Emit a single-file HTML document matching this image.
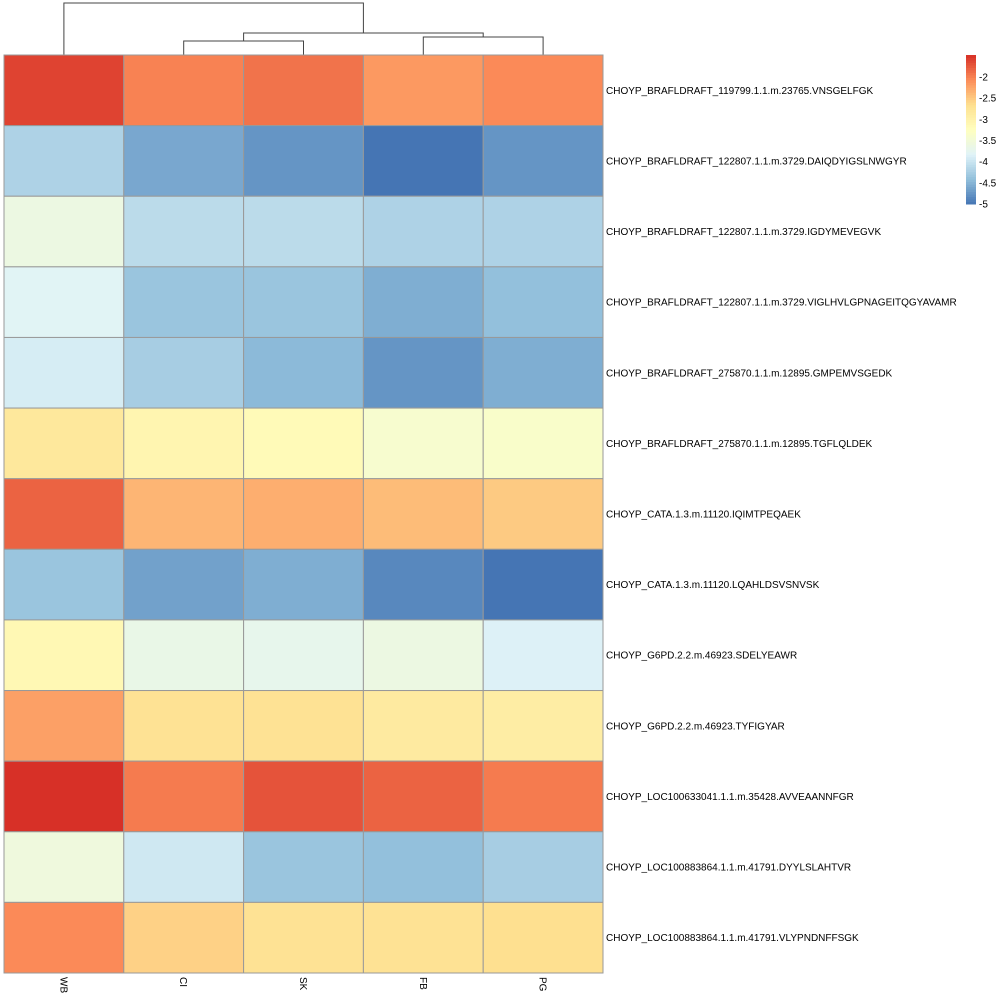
<!DOCTYPE html>
<html><head><meta charset="utf-8"><style>
body{margin:0;background:#fff}
svg{display:block;font-family:"Liberation Sans",sans-serif}
</style></head><body>
<svg id="chart" width="1000" height="1000">
<g id="dendro" stroke="#444" fill="none" stroke-width="1"></g>
<g id="cells"></g>
<g id="rowlabels" font-size="10" fill="#000"></g>
<g id="collabels" font-size="10" fill="#000"></g>
<g id="legend" font-size="10"></g>
</svg>
<script>
const columns = ["WB","CI","SK","FB","PG"];
const rows = ["CHOYP_BRAFLDRAFT_119799.1.1.m.23765.VNSGELFGK","CHOYP_BRAFLDRAFT_122807.1.1.m.3729.DAIQDYIGSLNWGYR","CHOYP_BRAFLDRAFT_122807.1.1.m.3729.IGDYMEVEGVK","CHOYP_BRAFLDRAFT_122807.1.1.m.3729.VIGLHVLGPNAGEITQGYAVAMR","CHOYP_BRAFLDRAFT_275870.1.1.m.12895.GMPEMVSGEDK","CHOYP_BRAFLDRAFT_275870.1.1.m.12895.TGFLQLDEK","CHOYP_CATA.1.3.m.11120.IQIMTPEQAEK","CHOYP_CATA.1.3.m.11120.LQAHLDSVSNVSK","CHOYP_G6PD.2.2.m.46923.SDELYEAWR","CHOYP_G6PD.2.2.m.46923.TYFIGYAR","CHOYP_LOC100633041.1.1.m.35428.AVVEAANNFGR","CHOYP_LOC100883864.1.1.m.41791.DYYLSLAHTVR","CHOYP_LOC100883864.1.1.m.41791.VLYPNDNFFSGK"];
const values = [
[-1.6,-2.0,-1.9,-2.15,-2.05],
[-4.2,-4.6,-4.75,-5.0,-4.75],
[-3.6,-4.1,-4.1,-4.2,-4.2],
[-3.8,-4.35,-4.35,-4.55,-4.4],
[-3.9,-4.25,-4.45,-4.75,-4.55],
[-2.8,-3.05,-3.15,-3.4,-3.35],
[-1.8,-2.35,-2.3,-2.4,-2.5],
[-4.35,-4.65,-4.55,-4.85,-5.0],
[-3.1,-3.65,-3.7,-3.6,-3.85],
[-2.2,-2.7,-2.7,-2.85,-2.9],
[-1.45,-1.95,-1.7,-1.8,-1.95],
[-3.55,-3.95,-4.35,-4.4,-4.25],
[-2.05,-2.55,-2.7,-2.7,-2.65]];
const legendTicks = [-2,-2.5,-3,-3.5,-4,-4.5,-5];
const legendTickLabels = ["-2","-2.5","-3","-3.5","-4","-4.5","-5"];
const vmin=-5, vmax=-1.48;
const pal=["#4575B4","#91BFDB","#E0F3F8","#FFFFBF","#FEE090","#FC8D59","#D73027"];
function hex(h){return [1,3,5].map(i=>parseInt(h.substr(i,2),16));}
function color(v){let t=Math.max(0,Math.min(1,(v-vmin)/(vmax-vmin)))*(pal.length-1);let i=Math.min(pal.length-2,Math.floor(t));let f=t-i;let a=hex(pal[i]),b=hex(pal[i+1]);return "rgb("+a.map((x,k)=>Math.round(x+(b[k]-x)*f)).join(",")+")";}
const X0=4,X1=603,Y0=55,Y1=973;
const cw=(X1-X0)/columns.length, rh=(Y1-Y0)/rows.length;
const xs=j=>X0+j*cw, ys=i=>Y0+i*rh;
const NS="http://www.w3.org/2000/svg";
function mk(tag,attrs,parent){const e=document.createElementNS(NS,tag);for(const k in attrs)e.setAttribute(k,attrs[k]);parent.appendChild(e);return e;}
const cells=document.getElementById('cells');
values.forEach((r,i)=>r.forEach((v,j)=>{
 const e=mk('rect',{x:xs(j),y:ys(i),width:cw,height:rh,fill:color(v),stroke:'#999','stroke-width':1},cells);
 
 
}));
const rl=document.getElementById('rowlabels');
rows.forEach((n,i)=>{const t=mk('text',{x:X1+3,y:ys(i)+rh/2+3.5},rl);t.textContent=n;
 
 });
const cl=document.getElementById('collabels');
columns.forEach((n,j)=>{const cx=xs(j)+cw/2;const t=mk('text',{x:0,y:0,transform:`translate(${cx-3.5},${Y1+4}) rotate(90)`},cl);t.textContent=n;
 
 });
// dendrogram
const d=document.getElementById('dendro');
const cx=j=>xs(j)+cw/2;
function link(x1,y1,x2,y2,top){mk('path',{d:`M${x1},${y1}V${top}H${x2}V${y2}`},d);}
const m1=(cx(1)+cx(2))/2, m2=(cx(3)+cx(4))/2, m3=(m1+m2)/2;
link(cx(1),Y0,cx(2),Y0,41);
link(cx(3),Y0,cx(4),Y0,37);
link(m1,41,m2,37,33);
link(cx(0),Y0,m3,33,3);
// legend
const lg=document.getElementById('legend');
const LX=966,LW=10,LT=55,LB=204;
const ly=v=>LB-(v-vmin)/(vmax-vmin)*(LB-LT);
for(let k=0;k<60;k++){const v0=vmin+(vmax-vmin)*k/60,v1=vmin+(vmax-vmin)*(k+1)/60;
 const e=mk('rect',{x:LX,y:ly(v1),width:LW,height:ly(v0)-ly(v1)+0.5,fill:color((v0+v1)/2)},lg);
 
 }
legendTicks.forEach((v,k)=>{const t=mk('text',{x:LX+LW+3,y:ly(v)+3.5},lg);t.textContent=legendTickLabels[k];
 
 });
</script>
</body></html>
